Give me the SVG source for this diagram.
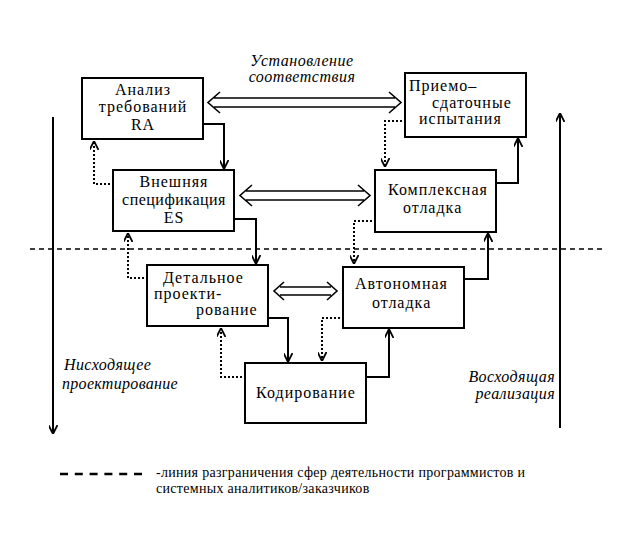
<svg xmlns="http://www.w3.org/2000/svg" width="639" height="547" viewBox="0 0 639 547">
<style>
.box{fill:#fff;stroke:#000;stroke-width:2}
.c{fill:none;stroke:#000;stroke-width:2}
.d{fill:none;stroke:#000;stroke-width:2;stroke-dasharray:2,2}
.dbl{fill:none;stroke:#000;stroke-width:1.6}
</style>
<defs>
<marker id="ah" viewBox="0 0 10 10" refX="10" refY="5" markerWidth="9" markerHeight="9" markerUnits="userSpaceOnUse" orient="auto">
<path d="M0,0 L10,5 L0,10" fill="none" stroke="#000" stroke-width="2"/>
</marker>
</defs>
<rect width="639" height="547" fill="#fff"/>
<g id="connectors">
<path class="c" d="M203,124 H224 V169" marker-end="url(#ah)"/>
<path class="c" d="M234,219 H256 V264" marker-end="url(#ah)"/>
<path class="c" d="M268,318 H288 V362" marker-end="url(#ah)"/>
<path class="c" d="M366,377 H389 V329" marker-end="url(#ah)"/>
<path class="c" d="M464,279 H488 V233" marker-end="url(#ah)"/>
<path class="c" d="M496,183 H518 V138" marker-end="url(#ah)"/>
<path class="d" d="M110,184 H94 V141" marker-end="url(#ah)"/>
<path class="d" d="M144,278 H128 V233" marker-end="url(#ah)"/>
<path class="d" d="M242,377 H221 V328" marker-end="url(#ah)"/>
<path class="d" d="M402,121 H385 V167" marker-end="url(#ah)"/>
<path class="d" d="M372,221 H354 V264" marker-end="url(#ah)"/>
<path class="d" d="M340,318 H322 V361" marker-end="url(#ah)"/>
<path class="c" d="M53,117 V434" marker-end="url(#ah)"/>
<path class="c" d="M560,428 V113" marker-end="url(#ah)"/>
<path class="dbl" d="M214,98 H395 M214,107 H395 M220,92 L208,102.5 L220,113 M389,92 L401,102.5 L389,113"/>
<path class="dbl" d="M246,191 H364 M246,200 H364 M252,185 L240,195.5 L252,206 M358,185 L370,195.5 L358,206"/>
<path class="dbl" d="M280,287 H331 M280,295 H331 M284,282 L274,291 L284,300 M327,282 L337,291 L327,300"/>
<line x1="30" y1="249" x2="602" y2="249" stroke="#000" stroke-width="1.6" stroke-dasharray="5,4"/>
</g>
<g id="ra">
<rect class="box" x="82" y="78" width="121" height="61"/>
<text font-family="Liberation Serif" font-size="16" letter-spacing="1" x="143" y="95" text-anchor="middle">Анализ</text>
<text font-family="Liberation Serif" font-size="16" letter-spacing="1" x="143" y="112" text-anchor="middle">требований</text>
<text font-family="Liberation Serif" font-size="16" letter-spacing="1" x="143" y="130" text-anchor="middle">RA</text>
</g>
<g id="priemo">
<rect class="box" x="405" y="73" width="121" height="64"/>
<text font-family="Liberation Serif" font-size="16" letter-spacing="1" x="409" y="91">Приемо–</text>
<text font-family="Liberation Serif" font-size="16" letter-spacing="1" x="432" y="108">сдаточные</text>
<text font-family="Liberation Serif" font-size="16" letter-spacing="1" x="419" y="124">испытания</text>
</g>
<g id="es">
<rect class="box" x="113" y="170" width="121" height="61"/>
<text font-family="Liberation Serif" font-size="16" letter-spacing="1" x="174" y="187" text-anchor="middle">Внешняя</text>
<text font-family="Liberation Serif" font-size="16" letter-spacing="0.5" x="174" y="205" text-anchor="middle">спецификация</text>
<text font-family="Liberation Serif" font-size="16" letter-spacing="1" x="174" y="223" text-anchor="middle">ES</text>
</g>
<g id="complex">
<rect class="box" x="375" y="170" width="121" height="62"/>
<text font-family="Liberation Serif" font-size="16" letter-spacing="1" x="388" y="195">Комплексная</text>
<text font-family="Liberation Serif" font-size="16" letter-spacing="1" x="403" y="213">отладка</text>
</g>
<g id="detail">
<rect class="box" x="147" y="265" width="121" height="61"/>
<text font-family="Liberation Serif" font-size="16" letter-spacing="1" x="163" y="283">Детальное</text>
<text font-family="Liberation Serif" font-size="16" letter-spacing="1" x="154" y="299">проекти-</text>
<text font-family="Liberation Serif" font-size="16" letter-spacing="1" x="196" y="315">рование</text>
</g>
<g id="auto">
<rect class="box" x="343" y="267" width="121" height="61"/>
<text font-family="Liberation Serif" font-size="16" letter-spacing="1" x="355" y="289">Автономная</text>
<text font-family="Liberation Serif" font-size="16" letter-spacing="1" x="372" y="308">отладка</text>
</g>
<g id="coding">
<rect class="box" x="245" y="363" width="121" height="60"/>
<text font-family="Liberation Serif" font-size="16" letter-spacing="1" x="306" y="398" text-anchor="middle">Кодирование</text>
</g>
<g id="labels">
<text font-family="Liberation Serif" font-size="16" font-style="italic" letter-spacing="0.5" x="302" y="66" text-anchor="middle">Установление</text>
<text font-family="Liberation Serif" font-size="16" font-style="italic" letter-spacing="0.5" x="302" y="82" text-anchor="middle">соответствия</text>
<text font-family="Liberation Serif" font-size="16" font-style="italic" letter-spacing="0.4" x="64" y="370">Нисходящее</text>
<text font-family="Liberation Serif" font-size="16" font-style="italic" letter-spacing="0.3" x="62" y="389">проектирование</text>
<text font-family="Liberation Serif" font-size="16" font-style="italic" letter-spacing="0.4" x="555" y="382" text-anchor="end">Восходящая</text>
<text font-family="Liberation Serif" font-size="16" font-style="italic" letter-spacing="0.4" x="555" y="399" text-anchor="end">реализация</text>
</g>
<g id="legend">
<line x1="60" y1="474" x2="142" y2="474" stroke="#000" stroke-width="2.5" stroke-dasharray="8,6.8"/>
<text font-family="Liberation Serif" font-size="14" letter-spacing="0.3" x="156" y="477">-линия разграничения сфер деятельности программистов и</text>
<text font-family="Liberation Serif" font-size="14" letter-spacing="0.3" x="156" y="493">системных аналитиков/заказчиков</text>
</g>
</svg>
